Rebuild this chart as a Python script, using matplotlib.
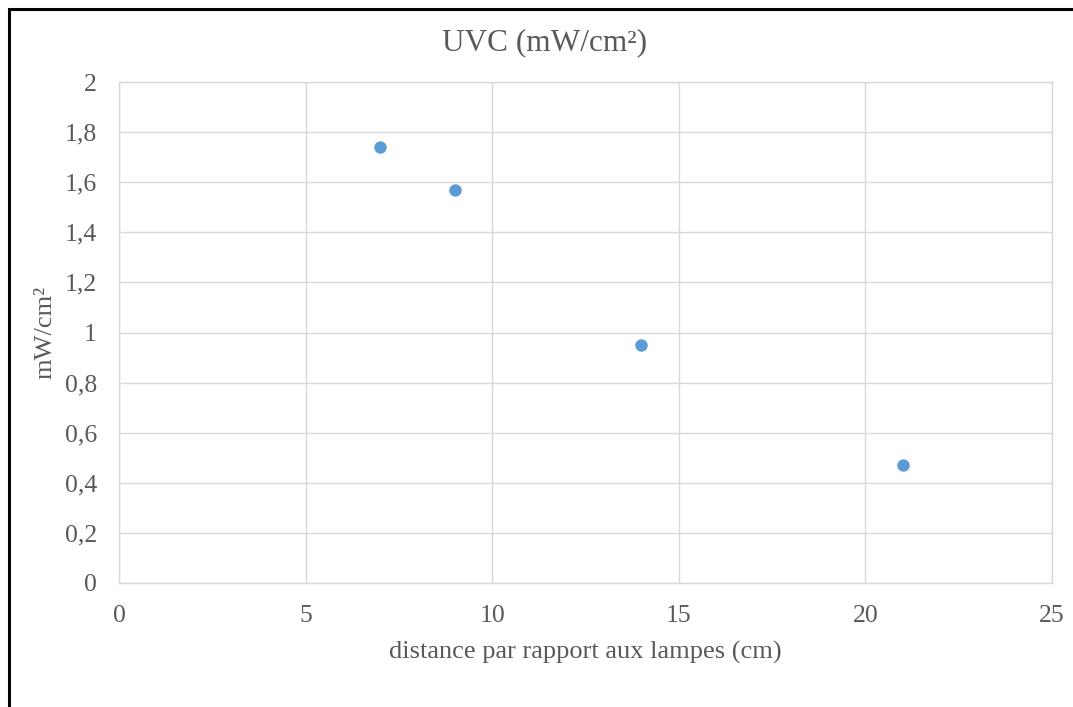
import matplotlib.pyplot as plt
from matplotlib.patches import Rectangle
from matplotlib.ticker import MultipleLocator, FuncFormatter

# data
distance_cm = [7, 9, 14, 21]
uvc_mw_cm2 = [1.74, 1.57, 0.95, 0.47]

title = "UVC (mW/cm²)"
xlabel = "distance par rapport aux lampes (cm)"
ylabel = "mW/cm²"

plt.rcParams['font.family'] = ['Liberation Serif', 'DejaVu Serif']
text_color = '#595959'
grid_color = '#d9d9d9'

fig = plt.figure(figsize=(10.73, 7.07), dpi=100)
ax = fig.add_axes([0.1109, 0.1754, 0.8695, 0.7086])

ax.scatter(distance_cm, uvc_mw_cm2, s=80, color='#5b9bd5', zorder=3, linewidths=0)

ax.set_xlim(0, 25)
ax.set_ylim(0, 2)
ax.xaxis.set_major_locator(MultipleLocator(5))
ax.yaxis.set_major_locator(MultipleLocator(0.2))
ax.yaxis.set_major_formatter(FuncFormatter(lambda v, p: f"{v:.1f}".replace('.', ',').replace(',0', '') if v != 0 else '0'))

ax.grid(True, color=grid_color, linewidth=1)
ax.set_axisbelow(True)
for s in ax.spines.values():
    s.set_color(grid_color)
    s.set_linewidth(1)
ax.tick_params(length=0, labelsize=18.5, labelcolor=text_color)
ax.tick_params(axis='y', pad=16)
ax.tick_params(axis='x', pad=16)

# title is centred on the whole chart area, not on the plot area
fig.text(545 / 1073, 1 - 43 / 707, title, fontsize=22.5, color=text_color,
         ha='center', va='center')
ax.set_xlabel(xlabel, fontsize=19, color=text_color, labelpad=10)
ax.set_ylabel(ylabel, fontsize=19, color=text_color, labelpad=6)

# black frame around the chart, cut by the image edges on the right and bottom
W, H = 1073, 707
frame = Rectangle((9 / W, -0.1), 1.2, 1.1 - 9 / H, transform=fig.transFigure,
                  fill=False, edgecolor='black', linewidth=2.2, clip_on=False)
fig.patches.append(frame)

fig.savefig('out.png', dpi=100)
